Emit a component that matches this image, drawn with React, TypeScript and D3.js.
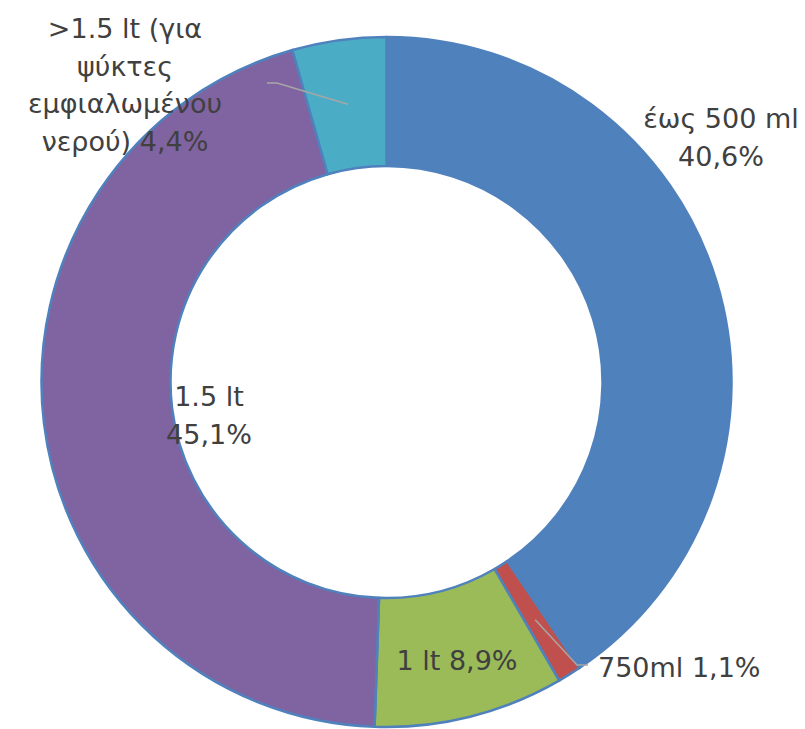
import * as d3 from 'd3';
import React, { useRef, useEffect } from 'react';

// bottle sizes, clockwise from 12 o'clock
const categories = ['έως 500 ml', '750ml', '1 lt', '1.5 lt', '>1.5 lt (για ψύκτες εμφιαλωμένου νερού)'];
const values = [40.6, 1.1, 8.9, 45.1, 4.4];
const colors = ['#4F81BD', '#C0504D', '#9BBB59', '#8064A2', '#4BACC6'];

// label text lines, as shown on the chart
const labelLines = [
    ['έως 500 ml', '40,6%'],
    ['750ml 1,1%'],
    ['1 lt 8,9%'],
    ['1.5 lt', '45,1%'],
    ['>1.5 lt (για', 'ψύκτες', 'εμφιαλωμένου', 'νερού) 4,4%'],
];

// label layout: x, first baseline y, anchor, leader elbow
const labelLayout = [
    { x: 721, y: 128, anchor: 'middle', leader: null },
    { x: 598, y: 677, anchor: 'start', leader: [[577, 665], [588, 665]] },
    { x: 457, y: 670, anchor: 'middle', leader: null },
    { x: 209, y: 406, anchor: 'middle', leader: null },
    { x: 125, y: 38, anchor: 'middle', leader: [[277, 83], [267, 83]] },
];

function Donut({ width, height }) {
    const ref = useRef();

    useEffect(() => {
        const svg = d3.select(ref.current);
        svg.selectAll('*').remove();

        const cx = 386.5, cy = 382;
        const outer = 345, inner = 216;

        const pie = d3.pie().sort(null).value(d => d)(values);
        const arc = d3.arc().innerRadius(inner).outerRadius(outer);
        const mid = d3.arc().innerRadius(inner).outerRadius(outer);

        const g = svg.append('g').attr('transform', `translate(${cx},${cy})`);

        g.selectAll('path')
            .data(pie)
            .enter()
            .append('path')
            .attr('d', arc)
            .style('fill', (d, i) => colors[i])
            .style('stroke', '#4F81BD')
            .style('stroke-width', 2.5)
            .style('stroke-linejoin', 'round');

        // leader lines start at the slice centroid
        labelLayout.forEach((l, i) => {
            if (!l.leader) return;
            const c = mid.centroid(pie[i]);
            const pts = [[c[0] + cx, c[1] + cy], ...l.leader];
            svg.append('path')
                .attr('d', d3.line()(pts))
                .style('fill', 'none')
                .style('stroke', '#A6A6A6')
                .style('stroke-width', 1.5);
        });

        labelLayout.forEach((l, i) => {
            const t = svg.append('text')
                .attr('x', l.x)
                .attr('y', l.y)
                .attr('text-anchor', l.anchor)
                .attr('font-family', 'DejaVu Sans')
                .attr('font-size', '27px')
                .attr('fill', '#404040');
            labelLines[i].forEach((line, j) => {
                t.append('tspan')
                    .attr('x', l.x)
                    .attr('dy', j === 0 ? 0 : 37.5)
                    .text(line);
            });
        });
    }, []);

    return (
        <svg ref={ref} width={width} height={height}
            style={{ position: 'absolute', left: 0, top: 0, background: '#fff' }}>
        </svg>
    );
}

export default function App() {
    return <Donut width={805} height={729} />;
}
